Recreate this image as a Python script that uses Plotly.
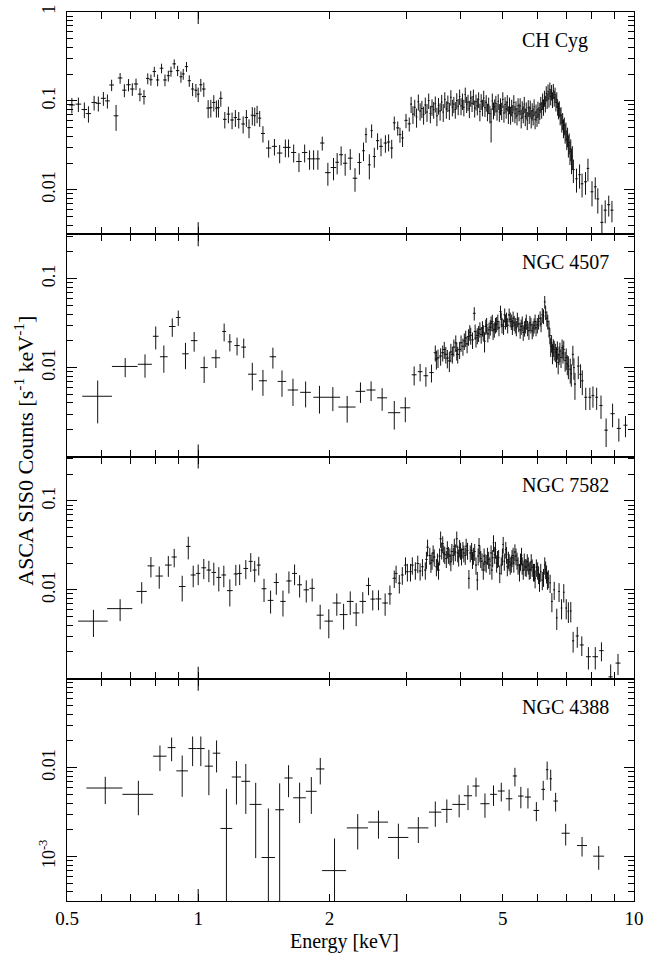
import plotly.graph_objects as go

# ---------------- CH Cyg ----------------
chcyg_e_soft = [0.513,0.531,0.548,0.560,0.577,0.590,0.606,0.619,0.633,0.648,
 0.662,0.677,0.692,0.706,0.720,0.735,0.751,0.766,0.779,0.793,
 0.807,0.824,0.839,0.854,0.866,0.881,0.897,0.913,0.924,0.940,
 0.954,0.971,0.988,1.000,1.014,1.030,1.054,1.069,1.086,1.101,
 1.113,1.127,1.151,1.173,1.196,1.217,1.239,1.268,1.290,1.308,
 1.331,1.348,1.365,1.384,1.408,1.451,1.496,1.538,1.585,1.612,
 1.656,1.703,1.755,1.801,1.840,1.882,1.926,1.984,2.044,2.084,
 2.128,2.174,2.233,2.290,2.344,2.395,2.427,2.470,2.500,2.536,
 2.580,2.627,2.689,2.735,2.780,2.818,2.870,2.904,2.944,2.998,
 3.050]
chcyg_de_soft = [0.008,0.008,0.008,0.008,0.008,0.008,0.008,0.008,0.008,0.008,
 0.008,0.008,0.008,0.008,0.008,0.008,0.008,0.007,0.007,0.007,
 0.007,0.008,0.008,0.007,0.007,0.008,0.008,0.007,0.007,0.008,
 0.008,0.008,0.008,0.007,0.008,0.010,0.010,0.009,0.009,0.008,
 0.008,0.010,0.011,0.011,0.011,0.011,0.012,0.012,0.011,0.011,
 0.011,0.009,0.009,0.011,0.015,0.020,0.020,0.022,0.020,0.018,
 0.022,0.025,0.025,0.020,0.020,0.020,0.022,0.030,0.030,0.020,
 0.022,0.025,0.028,0.028,0.025,0.018,0.015,0.018,0.015,0.020,
 0.022,0.025,0.025,0.022,0.020,0.020,0.025,0.020,0.020,0.025,
 0.025]
chcyg_rate_soft = [0.090,0.092,0.080,0.072,0.096,0.094,0.107,0.100,0.151,0.068,
 0.181,0.132,0.152,0.136,0.155,0.119,0.112,0.179,0.173,0.214,
 0.172,0.233,0.172,0.192,0.215,0.261,0.219,0.187,0.201,0.243,
 0.169,0.136,0.132,0.119,0.152,0.136,0.083,0.084,0.096,0.083,
 0.084,0.107,0.062,0.071,0.061,0.065,0.062,0.055,0.065,0.050,
 0.069,0.068,0.072,0.064,0.043,0.0295,0.0308,0.0259,0.030,0.030,
 0.0263,0.0208,0.0263,0.0223,0.0223,0.0223,0.0336,0.0156,0.0178,0.0204,
 0.0248,0.0199,0.0227,0.0135,0.0203,0.0275,0.0418,0.0191,0.0464,0.0237,
 0.0357,0.0308,0.0336,0.0345,0.0295,0.0567,0.0497,0.0418,0.0383,0.0604,
 0.0552]
chcyg_err_soft = [0.018,0.017,0.016,0.015,0.018,0.018,0.019,0.018,0.022,0.022,
 0.025,0.022,0.024,0.022,0.023,0.020,0.021,0.025,0.025,0.028,
 0.026,0.029,0.026,0.027,0.028,0.032,0.029,0.027,0.028,0.031,
 0.025,0.023,0.023,0.022,0.025,0.025,0.019,0.019,0.020,0.018,
 0.019,0.021,0.013,0.015,0.013,0.014,0.013,0.012,0.014,0.012,
 0.016,0.016,0.016,0.013,0.009,0.0065,0.0065,0.006,0.0068,0.0068,
 0.006,0.005,0.006,0.0055,0.0055,0.0055,0.006,0.0045,0.005,0.0055,
 0.006,0.0055,0.006,0.004,0.0055,0.0065,0.008,0.006,0.008,0.006,
 0.0075,0.007,0.0075,0.0075,0.007,0.010,0.009,0.008,0.008,0.011,
 0.010]

chcyg_e_hard = [3.08,3.11,3.14,3.17,3.20,3.23,3.26,3.29,3.32,3.35,
 3.38,3.41,3.44,3.47,3.50,3.53,3.56,3.59,3.62,3.65,
 3.68,3.71,3.74,3.77,3.80,3.83,3.86,3.89,3.92,3.95,
 3.98,4.01,4.04,4.07,4.10,4.13,4.16,4.19,4.22,4.25,
 4.28,4.31,4.34,4.37,4.40,4.43,4.46,4.49,4.52,4.55,
 4.58,4.61,4.64,4.67,4.70,4.73,4.76,4.79,4.82,4.85,
 4.88,4.91,4.94,4.97,5.00,5.03,5.06,5.09,5.12,5.15,
 5.18,5.21,5.24,5.27,5.30,5.33,5.36,5.39,5.42,5.45,
 5.48,5.51,5.54,5.57,5.60,5.63,5.66,5.69,5.72,5.75,
 5.78,5.81,5.84,5.87,5.90,5.93,5.96,5.99,6.02,6.05,
 6.08,6.11,6.14,6.17,6.20,6.23,6.26,6.29,6.32,6.35,
 6.38,6.41,6.44,6.47,6.50,6.53,6.56,6.59,6.62,6.65,
 6.68,6.71,6.74,6.77,6.80,6.83,6.86,6.89,6.92,6.95,
 6.98,7.01,7.04,7.07,7.10,7.13,7.16,7.19,7.22]
chcyg_de_hard = [0.015] * len(chcyg_e_hard)
chcyg_rate_hard = [0.092,0.071,0.085,0.066,0.098,0.077,0.082,0.070,0.090,0.075,
 0.101,0.072,0.086,0.080,0.093,0.068,0.089,0.077,0.097,0.075,
 0.104,0.081,0.095,0.078,0.110,0.085,0.092,0.080,0.101,0.087,
 0.112,0.088,0.100,0.085,0.118,0.092,0.097,0.082,0.108,0.094,
 0.112,0.083,0.098,0.088,0.104,0.076,0.099,0.085,0.108,0.084,
 0.096,0.076,0.090,0.072,0.058,0.100,0.079,0.086,0.094,0.077,
 0.099,0.075,0.088,0.078,0.104,0.073,0.091,0.081,0.096,0.071,
 0.090,0.070,0.085,0.074,0.096,0.072,0.081,0.068,0.088,0.076,
 0.088,0.064,0.081,0.072,0.092,0.067,0.079,0.061,0.084,0.071,
 0.083,0.064,0.077,0.068,0.086,0.062,0.075,0.066,0.081,0.070,
 0.078,0.092,0.080,0.100,0.086,0.108,0.094,0.122,0.102,0.128,
 0.106,0.135,0.112,0.126,0.104,0.130,0.108,0.118,0.096,0.104,
 0.086,0.079,0.082,0.068,0.070,0.057,0.060,0.050,0.053,0.044,
 0.046,0.037,0.040,0.032,0.034,0.027,0.029,0.022,0.024]
chcyg_err_hard = [0.019,0.016,0.018,0.016,0.020,0.017,0.018,0.016,0.019,0.017,
 0.020,0.016,0.018,0.017,0.019,0.016,0.019,0.017,0.020,0.017,
 0.021,0.018,0.020,0.017,0.022,0.018,0.019,0.017,0.021,0.018,
 0.022,0.019,0.021,0.018,0.023,0.019,0.020,0.018,0.022,0.019,
 0.022,0.018,0.020,0.019,0.021,0.017,0.020,0.018,0.022,0.018,
 0.020,0.017,0.019,0.016,0.024,0.021,0.017,0.018,0.020,0.017,
 0.020,0.017,0.019,0.017,0.021,0.016,0.019,0.018,0.020,0.016,
 0.019,0.016,0.018,0.016,0.020,0.016,0.018,0.015,0.019,0.017,
 0.019,0.015,0.018,0.016,0.019,0.015,0.017,0.014,0.018,0.016,
 0.018,0.015,0.017,0.015,0.018,0.014,0.016,0.015,0.017,0.015,
 0.017,0.019,0.017,0.021,0.018,0.022,0.020,0.024,0.021,0.025,
 0.022,0.026,0.023,0.025,0.021,0.025,0.022,0.023,0.020,0.021,
 0.018,0.017,0.017,0.015,0.015,0.013,0.013,0.012,0.012,0.011,
 0.011,0.009,0.010,0.009,0.009,0.008,0.008,0.007,0.007]

chcyg_e_tail = [7.26,7.38,7.50,7.60,7.74,7.84,8.01,8.15,8.26,8.44,8.59,8.75,8.90]
chcyg_de_tail = [0.05,0.05,0.05,0.05,0.06,0.05,0.06,0.06,0.06,0.07,0.07,0.07,0.07]
chcyg_rate_tail = [0.0169,0.0133,0.0148,0.0117,0.0123,0.0174,0.0095,0.0108,0.0079,
                   0.0043,0.0059,0.0068,0.0059]
chcyg_err_tail = [0.005,0.004,0.0045,0.0035,0.0035,0.005,0.003,0.003,0.0025,
                  0.0025,0.0017,0.0018,0.0016]

chcyg_e = chcyg_e_soft + chcyg_e_hard + chcyg_e_tail
chcyg_de = chcyg_de_soft + chcyg_de_hard + chcyg_de_tail
chcyg_rate = chcyg_rate_soft + chcyg_rate_hard + chcyg_rate_tail
chcyg_err = chcyg_err_soft + chcyg_err_hard + chcyg_err_tail

# ---------------- NGC 4507 ----------------
n4507_e_main = [0.588,0.680,0.755,0.799,0.834,0.872,0.900,0.935,0.979,1.032,
 1.098,1.147,1.182,1.228,1.272,1.331,1.408,1.484,1.557,1.650,
 1.764,1.898,2.037,2.197,2.357,2.493,2.643,2.818,2.987,3.13,
 3.23,3.33,3.43,3.50,3.55,3.64,3.70,3.77,3.83,3.90,
 3.94,3.98,4.05,4.11,4.17,4.22,4.30,4.34,4.40,4.46,
 4.49,4.54,4.59,4.65,4.70,4.75,4.81,4.87,4.94,4.98,
 5.05,5.10,5.17,5.23,5.28,5.34,5.40,5.48,5.54,5.61,
 5.66,5.74,5.80,5.87,5.93,6.00,6.09,6.16,6.24,6.31,
 6.38,6.44,6.50,6.56,6.64,6.70,6.76,6.84,6.90,6.99,
 7.07,7.14,7.24,7.32,7.45,7.54,7.61,7.75,7.92,8.05,
 8.21,8.40,8.63,8.93,9.23,9.56]
n4507_de_main = [0.046,0.046,0.028,0.012,0.017,0.015,0.011,0.016,0.017,0.020,
 0.025,0.012,0.013,0.017,0.016,0.030,0.030,0.025,0.035,0.045,
 0.050,0.060,0.080,0.100,0.060,0.060,0.070,0.090,0.080,0.04,
 0.04,0.04,0.04,0.03,0.03,0.03,0.03,0.03,0.03,0.03,
 0.03,0.03,0.03,0.03,0.03,0.03,0.03,0.03,0.03,0.03,
 0.03,0.03,0.03,0.03,0.03,0.03,0.03,0.03,0.03,0.03,
 0.03,0.03,0.03,0.03,0.03,0.03,0.03,0.03,0.03,0.03,
 0.03,0.03,0.03,0.03,0.03,0.03,0.03,0.03,0.03,0.03,
 0.03,0.03,0.03,0.03,0.03,0.03,0.03,0.03,0.03,0.04,
 0.04,0.04,0.04,0.04,0.05,0.05,0.05,0.06,0.06,0.06,
 0.06,0.07,0.08,0.10,0.10,0.10]
n4507_rate_main = [0.00476,0.0103,0.0109,0.0225,0.01325,0.029,0.0366,0.0143,0.0201,0.0100,
 0.0129,0.0255,0.0195,0.0177,0.0170,0.00843,0.00711,0.01325,0.00699,0.0056,
 0.00527,0.00464,0.00464,0.0036,0.00541,0.0056,0.00457,0.00311,0.00353,0.0083,
 0.0090,0.0081,0.0088,0.0147,0.0129,0.0147,0.0141,0.0119,0.0141,0.0190,
 0.0141,0.0160,0.0174,0.0215,0.0223,0.0231,0.0408,0.0215,0.0244,0.0236,
 0.0278,0.0198,0.0302,0.0266,0.0316,0.0260,0.0302,0.0330,0.0427,0.0302,
 0.0392,0.0350,0.0392,0.0330,0.0359,0.0302,0.0350,0.0266,0.0316,0.0278,
 0.0330,0.0260,0.0302,0.0278,0.0330,0.0302,0.0359,0.0392,0.0549,0.0359,
 0.0278,0.0174,0.0147,0.0160,0.0135,0.0114,0.0153,0.0167,0.0160,0.0129,
 0.0104,0.0096,0.0141,0.00654,0.0104,0.0084,0.0071,0.00464,0.00464,0.00484,
 0.00464,0.00375,0.00198,0.00303,0.00207,0.00225]
n4507_err_main = [0.0024,0.0025,0.0032,0.0065,0.0045,0.0068,0.0072,0.0047,0.005,0.0033,
 0.003,0.0058,0.0043,0.004,0.0042,0.0029,0.0023,0.0035,0.0023,0.0019,
 0.0017,0.0016,0.0014,0.0012,0.0014,0.0014,0.0013,0.0011,0.0011,0.002,
 0.002,0.002,0.002,0.003,0.003,0.003,0.003,0.003,0.003,0.004,
 0.003,0.0035,0.0038,0.0045,0.0047,0.005,0.007,0.0047,0.005,0.005,
 0.0055,0.005,0.006,0.0055,0.006,0.0055,0.006,0.0065,0.007,0.006,
 0.007,0.0065,0.007,0.0065,0.0068,0.006,0.0065,0.0055,0.006,0.0055,
 0.0065,0.0055,0.006,0.0055,0.0065,0.006,0.007,0.0075,0.009,0.007,
 0.006,0.0042,0.0038,0.004,0.0035,0.003,0.0038,0.004,0.004,0.0035,
 0.003,0.003,0.0035,0.0022,0.003,0.0025,0.0022,0.0013,0.0013,0.0013,
 0.0013,0.0011,0.0007,0.0009,0.0006,0.0006]
# additional overlapping bins in the dense 3.5-7.3 keV band
n4507_e_band = [3.52,3.60,3.67,3.73,3.80,3.86,3.92,4.01,4.08,4.14,
 4.20,4.26,4.32,4.37,4.43,4.51,4.57,4.62,4.68,4.73,
 4.78,4.84,4.90,4.96,5.02,5.07,5.13,5.20,5.26,5.31,
 5.37,5.44,5.51,5.57,5.64,5.70,5.77,5.84,5.90,5.96,
 6.04,6.12,6.20,6.27,6.34,6.41,6.47,6.53,6.60,6.67,
 6.73,6.80,6.87,6.95,7.03,7.18,7.28]
n4507_de_band = [0.03] * len(n4507_e_band)
n4507_rate_band = [0.0125,0.0135,0.0160,0.0128,0.0150,0.0170,0.0155,0.0190,0.0200,0.0185,
 0.0250,0.0205,0.0255,0.0230,0.0270,0.0250,0.0290,0.0240,0.0285,0.0330,
 0.0270,0.0310,0.0280,0.0350,0.0290,0.0330,0.0300,0.0350,0.0290,0.0320,
 0.0280,0.0310,0.0290,0.0250,0.0300,0.0280,0.0320,0.0260,0.0300,0.0280,
 0.0330,0.0310,0.0380,0.0420,0.0330,0.0230,0.0190,0.0170,0.0150,0.0160,
 0.0140,0.0130,0.0145,0.0120,0.0110,0.0085,0.0100]
n4507_err_band = [0.003,0.003,0.0035,0.003,0.0035,0.0037,0.0035,0.004,0.0042,0.004,
 0.005,0.0043,0.005,0.0047,0.0053,0.005,0.0057,0.0048,0.0056,0.0063,
 0.0053,0.006,0.0055,0.0066,0.0057,0.0063,0.0058,0.0066,0.0057,0.0062,
 0.0055,0.006,0.0057,0.005,0.0058,0.0055,0.0062,0.0052,0.0058,0.0055,
 0.0063,0.006,0.0072,0.0078,0.0063,0.0048,0.0042,0.0038,0.0035,0.0037,
 0.0033,0.0031,0.0034,0.003,0.0028,0.0024,0.0027]

n4507_e = n4507_e_main + n4507_e_band
n4507_de = n4507_de_main + n4507_de_band
n4507_rate = n4507_rate_main + n4507_rate_band
n4507_err = n4507_err_main + n4507_err_band

# ---------------- NGC 7582 ----------------
n7582_e_main = [0.575,0.662,0.742,0.779,0.814,0.854,0.881,0.919,0.949,0.974,
 1.000,1.030,1.058,1.086,1.115,1.145,1.182,1.220,1.245,1.286,
 1.320,1.348,1.377,1.416,1.466,1.511,1.565,1.615,1.664,1.709,
 1.770,1.826,1.905,1.994,2.080,2.156,2.233,2.304,2.386,2.459,
 2.515,2.592,2.685,2.754,2.818,
 2.845,2.894,2.94,2.99,3.02,3.07,3.10,3.15,3.19,3.23,
 3.27,3.32,3.36,3.40,3.44,3.48,3.52,3.56,3.60,3.64,
 3.68,3.71,3.75,3.80,3.85,3.89,3.92,3.96,4.00,4.05,
 4.10,4.15,4.18,4.24,4.28,4.34,4.37,4.41,4.45,4.51,
 4.55,4.61,4.67,4.72,4.76,4.81,4.86,4.92,4.96,5.01,
 5.08,5.12,5.17,5.23,5.28,5.33,5.39,5.46,5.52,5.57,
 5.63,5.69,5.75,5.81,5.88,5.93,6.01,6.07,6.16,6.24,
 6.30,6.36,6.48,6.56,6.65,6.73,6.82,6.90,6.99,7.07,
 7.16,7.25,7.41,7.59,7.86,8.15,8.42,8.84,9.19]
n7582_de_main = [0.045,0.044,0.020,0.014,0.016,0.015,0.012,0.016,0.011,0.013,
 0.011,0.013,0.013,0.013,0.014,0.014,0.018,0.014,0.014,0.016,
 0.014,0.014,0.014,0.018,0.022,0.020,0.022,0.022,0.022,0.022,
 0.025,0.025,0.035,0.045,0.045,0.045,0.040,0.040,0.040,0.030,
 0.030,0.040,0.040,0.030,0.025,
 0.022,0.022,0.022,0.022,0.022,0.022,0.022,0.022,0.022,0.022,
 0.022,0.022,0.022,0.022,0.022,0.022,0.022,0.022,0.022,0.022,
 0.022,0.022,0.022,0.022,0.022,0.022,0.022,0.022,0.022,0.022,
 0.022,0.022,0.022,0.022,0.022,0.022,0.022,0.022,0.022,0.022,
 0.022,0.022,0.022,0.022,0.022,0.022,0.022,0.022,0.022,0.022,
 0.025,0.025,0.025,0.025,0.025,0.025,0.025,0.025,0.025,0.025,
 0.025,0.025,0.025,0.025,0.025,0.025,0.025,0.025,0.025,0.025,
 0.025,0.025,0.030,0.030,0.030,0.030,0.030,0.030,0.030,0.030,
 0.030,0.040,0.060,0.080,0.100,0.120,0.100,0.100,0.120]
n7582_rate_main = [0.00445,0.00615,0.0096,0.0186,0.0143,0.0190,0.0234,0.0109,0.0308,0.0147,
 0.0153,0.0177,0.0167,0.0157,0.0138,0.0147,0.0098,0.0151,0.0153,0.0174,
 0.0209,0.0167,0.0190,0.0103,0.00761,0.0121,0.00741,0.0126,0.0153,0.0114,
 0.0100,0.0104,0.00519,0.00445,0.00711,0.00527,0.00741,0.0055,0.00741,0.0112,
 0.00787,0.0079,0.00711,0.0090,0.0135,
 0.0153,0.0119,0.0147,0.019,0.016,0.016,0.019,0.0167,0.0198,0.0163,
 0.0182,0.0167,0.0302,0.0244,0.0215,0.0234,0.0182,0.0167,0.0375,0.033,
 0.0249,0.0225,0.025,0.0207,0.0244,0.0267,0.0375,0.0234,0.0278,0.0285,
 0.0244,0.0278,0.0135,0.0278,0.0244,0.019,0.0129,0.0316,0.0225,0.0167,
 0.0207,0.0244,0.019,0.0167,0.0339,0.0285,0.0225,0.0153,0.019,0.0325,
 0.0285,0.0182,0.0207,0.020,0.0244,0.0267,0.0215,0.016,0.0244,0.0167,
 0.0182,0.0207,0.0167,0.0207,0.016,0.0135,0.0167,0.0124,0.0129,0.019,
 0.0153,0.0135,0.0074,0.010,0.00484,0.0096,0.00625,0.0094,0.00625,0.00574,
 0.0058,0.00267,0.00303,0.0024,0.00177,0.00177,0.00207,0.00105,0.0015]
n7582_err_main = [0.0015,0.0017,0.0026,0.0048,0.004,0.005,0.0055,0.0035,0.0088,0.004,
 0.004,0.0045,0.0045,0.0045,0.0042,0.004,0.0033,0.004,0.004,0.0042,
 0.005,0.0045,0.0045,0.003,0.0022,0.0033,0.0024,0.0035,0.004,0.0032,
 0.0028,0.003,0.0016,0.0016,0.002,0.0017,0.0022,0.0016,0.002,0.0025,
 0.002,0.002,0.002,0.0022,0.003,
 0.0034,0.0028,0.0033,0.0042,0.0036,0.0036,0.0042,0.0037,0.0044,0.0036,
 0.004,0.0037,0.0065,0.0053,0.0047,0.0051,0.004,0.0037,0.0078,0.007,
 0.0054,0.0049,0.0054,0.0045,0.0053,0.0058,0.0078,0.0051,0.006,0.0061,
 0.0053,0.006,0.0032,0.006,0.0053,0.0042,0.003,0.0067,0.0049,0.0037,
 0.0045,0.0053,0.0042,0.0037,0.0072,0.0061,0.0049,0.0034,0.0042,0.0069,
 0.0061,0.004,0.0045,0.0044,0.0053,0.0058,0.0047,0.0036,0.0053,0.0037,
 0.004,0.0045,0.0037,0.0045,0.0036,0.0031,0.0037,0.0029,0.003,0.0042,
 0.0035,0.0031,0.0018,0.0023,0.0013,0.0023,0.0016,0.0022,0.0016,0.0015,
 0.0015,0.0007,0.0008,0.0006,0.0005,0.0005,0.0005,0.0004,0.0004]
# additional overlapping bins in the dense 3.3-6.4 keV band
n7582_e_band = [3.34,3.42,3.46,3.54,3.58,3.62,3.66,3.73,3.78,3.82,
 3.87,3.94,3.98,4.02,4.07,4.12,4.21,4.26,4.31,4.39,
 4.43,4.48,4.53,4.58,4.64,4.70,4.74,4.79,4.84,4.89,
 4.99,5.04,5.10,5.15,5.20,5.25,5.30,5.36,5.42,5.49,
 5.54,5.60,5.66,5.72,5.78,5.84,5.91,5.97,6.04,6.11,
 6.20,6.27,6.33,6.42]
n7582_de_band = [0.022] * len(n7582_e_band)
n7582_rate_band = [0.022,0.020,0.026,0.021,0.024,0.028,0.026,0.029,0.024,0.027,
 0.031,0.026,0.030,0.024,0.026,0.031,0.026,0.022,0.027,0.024,
 0.026,0.021,0.024,0.020,0.022,0.026,0.023,0.025,0.020,0.023,
 0.024,0.021,0.025,0.022,0.019,0.023,0.020,0.024,0.019,0.021,
 0.019,0.021,0.018,0.019,0.017,0.018,0.016,0.018,0.015,0.016,
 0.014,0.017,0.013,0.012]
n7582_err_band = [0.0048,0.0045,0.0056,0.0046,0.0052,0.006,0.0056,0.0062,0.0052,0.0058,
 0.0066,0.0056,0.0064,0.0052,0.0056,0.0066,0.0056,0.0048,0.0058,0.0052,
 0.0056,0.0046,0.0052,0.0044,0.0048,0.0056,0.005,0.0054,0.0044,0.005,
 0.0052,0.0046,0.0054,0.0048,0.0042,0.005,0.0044,0.0052,0.0042,0.0046,
 0.0042,0.0046,0.004,0.0042,0.0038,0.004,0.0036,0.004,0.0034,0.0036,
 0.0032,0.0038,0.003,0.0028]

n7582_e = n7582_e_main + n7582_e_band
n7582_de = n7582_de_main + n7582_de_band
n7582_rate = n7582_rate_main + n7582_rate_band
n7582_err = n7582_err_main + n7582_err_band

# ---------------- NGC 4388 ----------------
n4388_e = [0.612,0.729,0.817,0.869,0.919,0.971,1.014,1.058,1.102,1.161,
 1.224,1.286,1.355,1.449,1.538,1.612,1.709,1.818,1.906,2.055,
 2.323,2.592,2.880,3.200,3.500,3.720,3.970,4.160,4.340,4.550,
 4.760,4.960,5.170,5.330,5.500,5.710,5.970,6.190,6.320,6.440,
 6.610,6.970,7.600,8.300]
n4388_de = [0.058,0.059,0.029,0.018,0.028,0.021,0.021,0.023,0.022,0.036,
 0.030,0.030,0.043,0.051,0.036,0.035,0.057,0.052,0.042,0.13,
 0.13,0.135,0.155,0.175,0.115,0.105,0.14,0.09,0.08,0.11,
 0.085,0.09,0.09,0.06,0.08,0.09,0.09,0.06,0.04,0.04,
 0.08,0.15,0.20,0.24]
n4388_rate = [0.0059,0.00501,0.01346,0.0168,0.0092,0.0164,0.0164,0.0104,0.01454,0.00207,
 0.00785,0.00702,0.00386,0.000975,0.00336,0.00765,0.00458,0.00542,0.00967,0.000695,
 0.0021,0.00244,0.00164,0.0021,0.00316,0.00339,0.00386,0.00483,0.00621,0.00393,
 0.00501,0.00546,0.00447,0.00806,0.00479,0.00467,0.0033,0.0057,0.0095,0.0075,
 0.00421,0.00183,0.00133,0.00101]
n4388_err = [0.002,0.0021,0.0043,0.005,0.0045,0.006,0.006,0.0055,0.0057,0.0037,
 0.004,0.004,0.0029,0.0025,0.0033,0.003,0.0022,0.0024,0.0032,0.0009,
 0.0009,0.00085,0.0007,0.00068,0.001,0.001,0.0011,0.0015,0.0015,0.0012,
 0.0013,0.0013,0.0012,0.0019,0.0013,0.0012,0.0008,0.0014,0.0022,0.002,
 0.001,0.0005,0.00033,0.0003]

x_tickvals = [0.5, 1, 2, 5, 10]
x_ticktext = ["0.5", "1", "2", "5", "10"]
x_minor = [0.6, 0.7, 0.8, 0.9, 3, 4, 6, 7, 8, 9]

panels = [
    ("CH Cyg", chcyg_e, chcyg_de, chcyg_rate, chcyg_err, [-2.5, 0.0],
     [1, 0.1, 0.01], ["1", "0.1", "0.01"], [-3, -2, -1]),
    ("NGC 4507", n4507_e, n4507_de, n4507_rate, n4507_err, [-3.0, -0.5],
     [0.1, 0.01], ["0.1", "0.01"], [-3, -2, -1]),
    ("NGC 7582", n7582_e, n7582_de, n7582_rate, n7582_err, [-3.0, -0.5],
     [0.1, 0.01], ["0.1", "0.01"], [-3, -2, -1]),
    ("NGC 4388", n4388_e, n4388_de, n4388_rate, n4388_err, [-3.5, -1.0],
     [0.01, 0.001], ["0.01", "10<sup>-3</sup>"], [-4, -3, -2]),
]

FONT = "Liberation Serif"
INK = "#111111"
fig = go.Figure()
n = len(panels)
for i, (name, e, de, r, dr, yr, ytv, ytt, decs) in enumerate(panels):
    k = i + 1
    s = "" if k == 1 else str(k)
    fig.add_trace(go.Scatter(
        x=e, y=r, mode="markers",
        marker=dict(size=1, color=INK),
        error_x=dict(type="data", array=de, width=0, thickness=1, color=INK),
        error_y=dict(type="data", array=dr, width=0, thickness=1, color=INK),
        xaxis=f"x{s}", yaxis=f"y{s}", showlegend=False, hoverinfo="skip"))
    top = 1 - i / n
    bot = 1 - (i + 1) / n
    minor_y = [m * 10.0 ** d for d in decs for m in range(2, 10)]
    fig.layout[f"xaxis{s}"] = dict(
        type="log", range=[-0.30103, 1.0], domain=[0, 1], anchor=f"y{s}",
        automargin=False,
        showline=True, linecolor="black", linewidth=1, mirror="allticks",
        ticks="inside", ticklen=7, tickwidth=1, tickcolor="black",
        tickvals=x_tickvals, ticktext=x_ticktext,
        showticklabels=(k == n), showgrid=False, zeroline=False,
        tickfont=dict(family=FONT, size=19, color="black"),
        minor=dict(ticks="inside", ticklen=7, tickwidth=1, tickcolor="black",
                   tickvals=x_minor, showgrid=False))
    fig.layout[f"yaxis{s}"] = dict(
        type="log", range=yr, domain=[bot, top], anchor=f"x{s}",
        automargin=False,
        showline=True, linecolor="black", linewidth=1, mirror="allticks",
        ticks="inside", ticklen=10, tickwidth=1, tickcolor="black",
        tickvals=ytv, ticktext=ytt, tickangle=-90, ticklabelstandoff=4,
        showgrid=False, zeroline=False,
        tickfont=dict(family=FONT, size=18, color="black"),
        minor=dict(ticks="inside", ticklen=6, tickwidth=1, tickcolor="black",
                   tickvals=minor_y, showgrid=False))
    fig.add_annotation(text=name, xref="paper", yref=f"y{s} domain",
                       x=0.799, y=1 - 28 / 222, xanchor="left", yanchor="middle",
                       showarrow=False, font=dict(family=FONT, size=20, color="black"))
    # longer major tick at E = 1 keV (top and bottom of each panel)
    for y0, y1 in ((0, 12 / 222), (1 - 12 / 222, 1)):
        fig.add_shape(type="line", xref=f"x{s}", yref=f"y{s} domain",
                      x0=1, x1=1, y0=y0, y1=y1, line=dict(color="black", width=1))

fig.add_annotation(text="ASCA SIS0 Counts [s<sup>-1</sup> keV<sup>-1</sup>]",
                   xref="paper", yref="paper", x=-0.075, y=0.507, textangle=-90,
                   xanchor="center", yanchor="middle", showarrow=False,
                   font=dict(family=FONT, size=22, color="black"))
fig.add_annotation(text="Energy [keV]", xref="paper", yref="paper",
                   x=0.49, y=-0.046, xanchor="center", yanchor="middle",
                   showarrow=False, font=dict(family=FONT, size=20, color="black"))

fig.update_layout(width=651, height=953, margin=dict(l=67, r=17, t=12, b=52, autoexpand=False),
                  plot_bgcolor="white", paper_bgcolor="white")
fig.write_html("out.html", config={"displayModeBar": False},
               post_script="document.body.style.margin='0';document.body.style.overflow='hidden';")
